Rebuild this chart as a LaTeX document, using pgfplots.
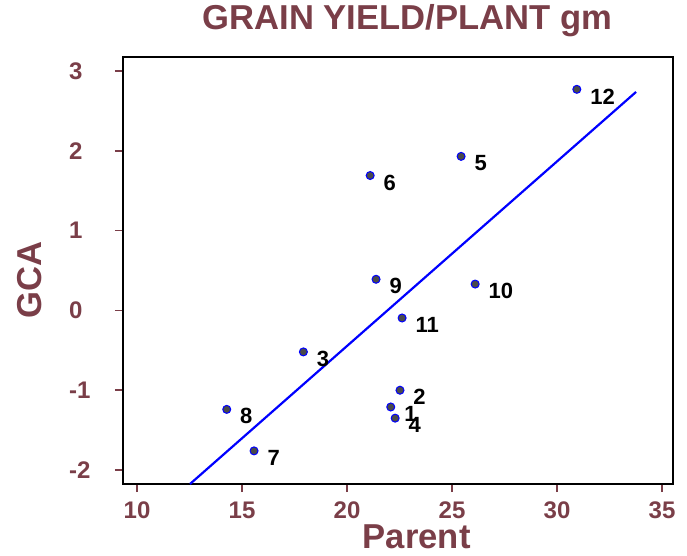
\documentclass[border=0pt]{standalone}
\usepackage{fontspec}
\setmainfont{Liberation Sans}
\usepackage{pgfplots}
\pgfplotsset{compat=1.18}
\definecolor{maroon}{RGB}{122,62,72}
\definecolor{ptfill}{RGB}{74,74,74}
\begin{document}
\begin{tikzpicture}
\path[use as bounding box] (-123bp,-72bp) rectangle (564bp,484bp);
\begin{axis}[
  scale only axis, width=550bp, height=427bp,
  xmin=9.33, xmax=35.52, ymin=-2.175, ymax=3.175,
  axis line style={black, line width=1.6bp},
  xtick={10,15,20,25,30,35}, ytick={-2,-1,0,1,2,3},
  tick align=outside, major tick length=8bp,
  every tick/.style={maroon, line width=1.6bp},
  xtick pos=bottom, ytick pos=left,
  /pgf/number format/assume math mode=true,
  ticklabel style={font=\fontsize{24bp}{28bp}\selectfont\bfseries, text=maroon, inner sep=0pt},
  yticklabel style={anchor=west, xshift=-46bp},
  xticklabel style={anchor=north, yshift=-10bp},
  title={GRAIN YIELD/PLANT gm},
  title style={font=\fontsize{34.6bp}{40bp}\selectfont\bfseries, text=maroon, at={(0.517,1.0515)}, anchor=base, inner sep=0pt},
  xlabel={Parent},
  xlabel style={font=\fontsize{34.6bp}{40bp}\selectfont\bfseries, text=maroon, at={(0.534,-0.1499)}, anchor=base, inner sep=0pt},
  ylabel={GCA},
  ylabel style={font=\fontsize{34.6bp}{40bp}\selectfont\bfseries, text=maroon, at={(-0.169,0.478)}, anchor=center, inner sep=0pt},
]
\addplot[blue, line width=2.2bp] coordinates {(12.52,-2.175) (33.76,2.737)};
\addplot[only marks, mark=*, mark size=4bp,
  mark options={fill=ptfill, draw=blue, line width=1bp},
  nodes near coords, point meta=explicit symbolic,
  every node near coord/.style={anchor=west, font=\fontsize{22bp}{26bp}\selectfont\bfseries, inner sep=0pt, xshift=13bp, yshift=-7bp, text=black}]
  table[meta=label] {
x y label
22.08 -1.21 1
22.52 -1.00 2
17.92 -0.52 3
22.29 -1.35 4
25.43 1.93 5
21.10 1.69 6
15.57 -1.76 7
14.27 -1.24 8
21.38 0.39 9
26.10 0.33 10
22.62 -0.095 11
30.94 2.77 12
};
\end{axis}
\end{tikzpicture}
\end{document}
